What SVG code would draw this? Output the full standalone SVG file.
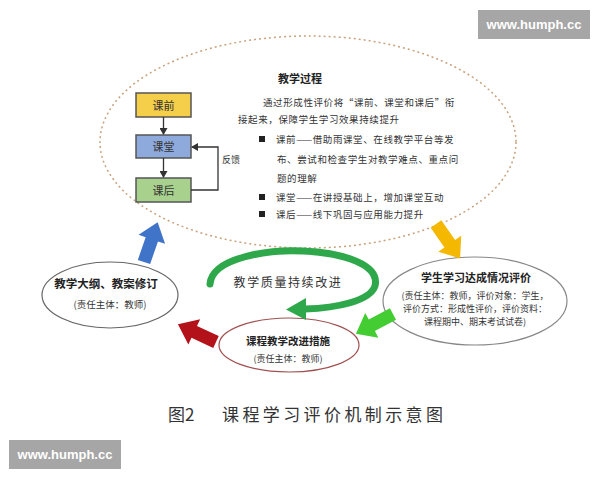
<svg xmlns="http://www.w3.org/2000/svg" width="600" height="480" viewBox="0 0 600 480">
<style>
.t{font-family:"Noto Sans CJK SC","Liberation Sans",sans-serif;fill:#333}
.b{font-weight:bold;fill:#222}
.wm{font-family:"Liberation Sans","DejaVu Sans",sans-serif;font-size:13px;fill:#fff;font-weight:bold}
.box{stroke:#555;stroke-width:1.5}
.ln{stroke:#333;stroke-width:1.3;fill:none}
.ell{fill:#fff;stroke-width:1.2}
</style>
<defs>
<marker id="ah" markerWidth="8" markerHeight="8" refX="6" refY="4" orient="auto" markerUnits="userSpaceOnUse">
<path d="M0,0 L7,4 L0,8 Z" fill="#333"/>
</marker>
<polygon id="blk" points="0,-6.5 24,-6.5 24,-14 42,0 24,14 24,6.5 0,6.5"/>
</defs>
<rect width="600" height="480" fill="#fff"/>

<g id="main">
<ellipse cx="308" cy="142" rx="208" ry="106" fill="#fff" stroke="#c9a27e" stroke-width="1.5" stroke-dasharray="2 3"/>
<text class="t b" x="278" y="83" font-size="11">教学过程</text>
<g class="t" font-size="9.5" letter-spacing="0.6">
<text x="263" y="106">通过形成性评价将“课前、课堂和课后”衔</text>
<text x="238" y="123">接起来，保障学生学习效果持续提升</text>
<rect x="259" y="136" width="6" height="6" fill="#222"/>
<text x="276" y="143">课前——借助雨课堂、在线教学平台等发</text>
<text x="277" y="163">布、尝试和检查学生对教学难点、重点问</text>
<text x="277" y="182">题的理解</text>
<rect x="259" y="194" width="6" height="6" fill="#222"/>
<text x="276" y="201">课堂——在讲授基础上，增加课堂互动</text>
<rect x="259" y="211" width="6" height="6" fill="#222"/>
<text x="276" y="218">课后——线下巩固与应用能力提升</text>
</g>
</g>

<g id="kq">
<rect class="box" x="136" y="93" width="55" height="24" fill="#f5cf4a"/>
<text class="t" x="163.5" y="109.5" font-size="11" text-anchor="middle">课前</text>
</g>
<g id="kt">
<rect class="box" x="136" y="135" width="55" height="23" fill="#8eaadc"/>
<text class="t" x="163.5" y="151" font-size="11" text-anchor="middle">课堂</text>
</g>
<g id="kh">
<rect class="box" x="136" y="178" width="55" height="24" fill="#a9d18e"/>
<text class="t" x="163.5" y="194.5" font-size="11" text-anchor="middle">课后</text>
</g>

<g id="eval">
<ellipse class="ell" cx="475" cy="301" rx="92" ry="44" stroke="#888"/>
<text class="t b" x="476" y="282" font-size="11" text-anchor="middle">学生学习达成情况评价</text>
<g class="t" font-size="9" text-anchor="middle">
<text x="475" y="299">(责任主体：教师，评价对象：学生，</text>
<text x="475" y="312">评价方式：形成性评价，评价资料：</text>
<text x="475" y="325">课程期中、期末考试试卷)</text>
</g>
</g>

<g id="improve">
<ellipse class="ell" cx="289" cy="345" rx="70" ry="27" stroke="#a05050"/>
<text class="t b" x="288" y="345" font-size="10.5" text-anchor="middle">课程教学改进措施</text>
<text class="t" x="288" y="362" font-size="9" text-anchor="middle">(责任主体：教师)</text>
</g>

<g id="revise">
<ellipse class="ell" cx="110" cy="295" rx="68" ry="33" stroke="#666"/>
<text class="t b" x="106" y="288" font-size="11.5" text-anchor="middle">教学大纲、教案修订</text>
<text class="t" x="110" y="308" font-size="9.5" text-anchor="middle">(责任主体：教师)</text>
</g>

<g id="connectors">
<line class="ln" x1="163.5" y1="117" x2="163.5" y2="134" marker-end="url(#ah)"/>
<line class="ln" x1="163.5" y1="158" x2="163.5" y2="177" marker-end="url(#ah)"/>
<polyline class="ln" points="191,190 218,190 218,147 192,147" marker-end="url(#ah)"/>
<text class="t" x="222" y="163" font-size="9">反馈</text>
<use href="#blk" fill="#3f74c9" transform="translate(144,262) rotate(-71)"/>
<use href="#blk" fill="#f5b800" transform="translate(436,224) rotate(55)"/>
<use href="#blk" fill="#44cc33" transform="translate(393,314) rotate(152)"/>
<use href="#blk" fill="#b3121a" transform="translate(216,342) rotate(205)"/>
<path d="M210,284 C212,258 268,249 303,251 C345,253 380,265 375,286 C370,301 337,308 305,309" fill="none" stroke="#2ea84a" stroke-width="7" stroke-linecap="round"/>
<polygon points="306,298 286,309.5 306,320" fill="#2ea84a"/>
<text class="t" x="288" y="287" font-size="12" letter-spacing="1.6" text-anchor="middle">教学质量持续改进</text>
</g>

<text x="168" y="421" font-family="Noto Sans CJK SC,sans-serif" font-size="17" fill="#333">图2</text>
<text x="222" y="421" font-family="Noto Sans CJK SC,sans-serif" font-size="17" letter-spacing="3.4" fill="#333">课程学习评价机制示意图</text>

<rect x="478" y="10" width="112" height="29" fill="#a6a6a6"/>
<text class="wm" x="534" y="29" text-anchor="middle">www.humph.cc</text>
<rect x="9" y="440" width="112" height="29" fill="#a6a6a6"/>
<text class="wm" x="65" y="459" text-anchor="middle">www.humph.cc</text>
</svg>
